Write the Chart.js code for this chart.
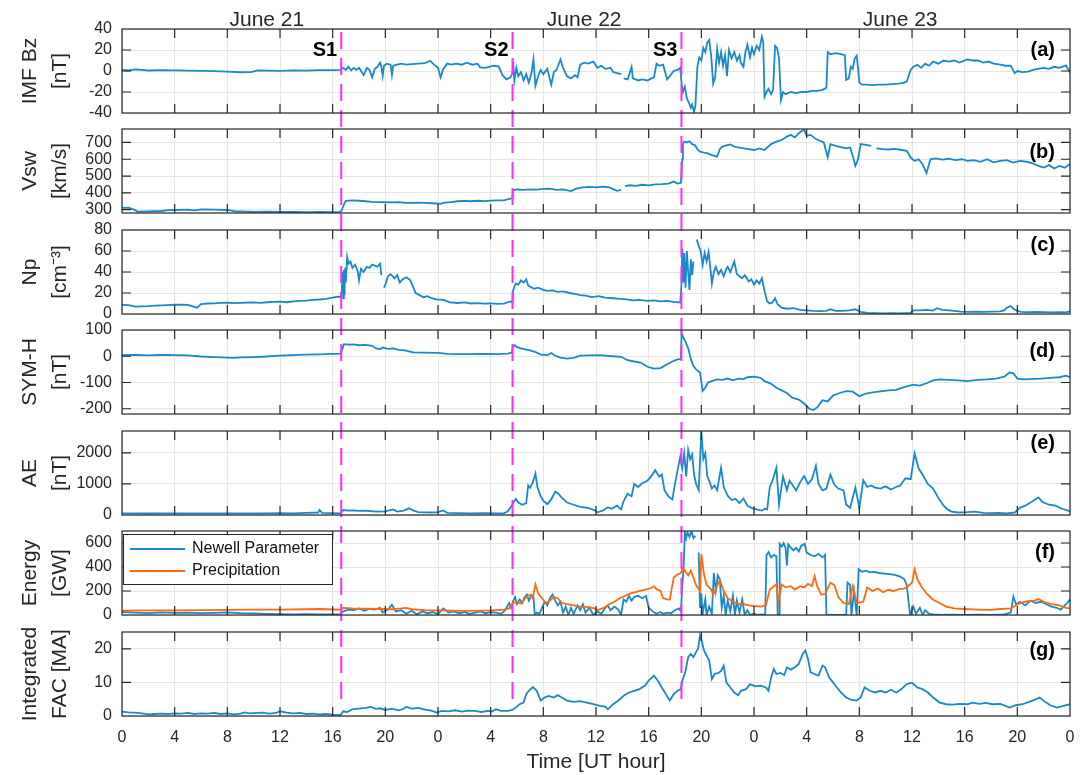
<!DOCTYPE html>
<html>
<head>
<meta charset="utf-8">
<script src="https://cdn.jsdelivr.net/npm/chart.js@4.4.1/dist/chart.umd.min.js"></script>
<style>
  body { margin: 0; background: #fff; }
  #wrap { position: relative; width: 1084px; height: 775px; }
  #wrap canvas { position: absolute; left: 0; }
</style>
</head>
<body>
<div id="wrap"></div>
<script>
// ---- data (hours since June 21 00 UT, value) ----
const shockTimes = [16.65, 29.66, 42.49];
const shockNames = ["S1", "S2", "S3"];
const dayNames = ["June 21", "June 22", "June 23"];
const dayLabelHours = [11, 35.1, 59.1];
const hourTicks = [0, 4, 8, 12, 16, 20, 24, 28, 32, 36, 40, 44, 48, 52, 56, 60, 64, 68, 72];

const bzTicks = [-40, -20, 0, 20, 40];
const vswTicks = [300, 400, 500, 600, 700];
const npTicks = [0, 20, 40, 60, 80];
const symhTicks = [-200, -100, 0, 100];
const aeTicks = [0, 1000, 2000];
const energyTicks = [0, 200, 400, 600];
const facTicks = [0, 10, 20];

const bz = [[0,1],[0.5,0.5],[1,1.5],[1.5,1],[2,0.5],[3,0.8],[4,0.5],[5,0.3],[6,0.2],[7,-0.2],[8,-0.5],[9,-1.2],[9.8,-1],[10.3,0.5],[11,0.3],[12,0.2],[13,0.5],[14,0.4],[15,0.8],[16,0.8],[16.6,1],
  [16.8,3],[17.0,1],[17.2,4],[17.4,0.5],[17.6,3],[17.8,1],[18.0,3],[18.35,-4],[18.6,3],[18.8,1],[19.0,-6],[19.2,2],[19.4,4],[19.6,8],[19.7,4],[19.8,-4.7],[19.9,5],[20.1,7],[20.4,6],[20.5,-3.8],[20.6,5],[20.9,6],[21.2,7],[21.6,6],[22.0,6.5],[22.5,7],[23.0,7.5],[23.4,9.8],[23.7,6],[24.0,3],[24.2,-6],[24.4,2],[24.7,7],[25.0,6],[25.4,7],[25.8,6],[26.2,8],[26.6,6],[27.0,7],[27.2,3.5],[27.6,3],[27.9,4],[28.2,5],[28.6,4.5],[28.9,-4],[29.2,-8],[29.5,-6],[29.66,-2],
  [29.7,9],[29.8,-9],[29.95,3],[30.1,-5],[30.3,-1],[30.5,-9],[30.7,-3],[30.9,-11],[31.1,-2],[31.25,11],[31.4,-14],[31.6,-5],[31.8,1],[32.0,-3],[32.3,2],[32.6,-13],[32.8,-1],[33.0,1],[33.3,11],[33.5,3],[33.8,-5],[34.1,-7],[34.4,-4],[34.6,-6],[34.8,6],[35.1,8],[35.4,7],[35.8,9],[36.1,3],[36.4,5],[36.7,2],[37.1,3],[37.3,-1],[37.6,-2],[37.9,-3],[38.0,null],[38.1,-7],[38.4,-8],[38.7,3.8],[38.8,-7],[39.2,-9],[39.5,-8],[39.9,-9],[40.2,-7],[40.4,-6],[40.6,7],[40.8,5],[41.1,6],[41.4,-8],[41.6,-5],[41.9,0],[42.2,1],[42.4,3],
  [42.5,-12],[42.6,-20],[42.75,-15],[42.9,-26],[43.05,-30],[43.2,-35],[43.3,-32],[43.45,-39],[43.55,-33],[43.7,4],[43.85,13],[44.0,10],[44.15,22],[44.3,18],[44.45,27],[44.6,29.5],[44.75,14],[44.9,-12],[45.05,-6],[45.2,21],[45.35,8],[45.5,18],[45.65,5],[45.8,15],[45.95,-5],[46.1,20],[46.3,12],[46.5,18],[46.7,10],[46.9,15],[47.0,8],[47.2,4],[47.35,18],[47.5,25],[47.7,13],[47.85,22],[48.0,16],[48.2,24],[48.4,20],[48.6,32.7],[48.7,28],[48.8,-24.5],[48.95,-20],[49.1,-17],[49.3,-22],[49.45,-18],[49.6,24],[49.75,22],[49.9,12],[50.05,-27.6],[50.2,-20],[50.4,-22],[50.8,-20],[51.2,-21],[51.6,-20],[52.0,-20],[52.4,-19],[52.8,-19],[53.2,-18],[53.5,-16],[53.6,18],[53.8,16],[54.2,17],[54.6,16],[54.9,15],[55.0,-8.6],[55.2,-7],[55.35,4],[55.5,2],[55.65,12],[55.8,14.6],[55.9,3],[56.0,-11],[56.2,-13],[56.6,-13],[57.0,-13.5],[57.5,-13],[58.0,-13],[58.5,-12.5],[59.0,-12],[59.4,-11],[59.6,-10],[59.9,1],[60.1,4],[60.4,6],[60.7,3],[61.0,7],[61.3,5],[61.6,9],[62.0,7],[62.4,10],[62.8,9],[63.2,10],[63.6,8],[64.2,11],[64.6,10],[65.0,10],[65.4,8],[65.8,9],[66.2,7],[66.7,6],[67.1,5],[67.5,5],[67.8,-2],[68.0,0],[68.4,-1],[68.8,-0.5],[69.2,1],[69.6,2],[70.0,3],[70.4,2],[70.8,4],[71.2,3],[71.7,5.4],[72,-1.6]];

const vsw = [[0,310],[0.5,312],[0.9,300],[1.2,288],[2,290],[3,292],[3.5,297],[4,298],[5,300],[5.5,296],[6,302],[7,300],[8,298],[8.6,290],[9,289],[10,287],[11,288],[12,286],[13,287],[14,285],[15,286],[16,285],[16.6,287],[16.7,300],[16.8,320],[16.9,338],[17.0,352],[17.5,355],[18,353],[18.5,350],[19,346],[19.5,345],[20,344],[20.5,343],[21,345],[21.5,341],[22,340],[22.5,342],[23,340],[23.5,338],[24.2,335],[24.5,342],[25,345],[25.5,350],[26,352],[26.5,350],[27,353],[27.5,351],[28,354],[28.5,355],[29,355],[29.5,365],[29.66,370],[29.7,415],[30,420],[30.5,418],[31,421],[31.5,419],[32,423],[32.5,425],[33,418],[33.5,420],[34.1,410],[34.5,425],[35,432],[35.5,435],[36,432],[36.5,437],[37,433],[37.3,422],[37.6,412],[37.9,418],[38.0,null],[38.2,440],[38.6,445],[39,442],[39.5,448],[40,445],[40.5,450],[41,452],[41.5,455],[41.9,467],[42.2,455],[42.45,460],
  [42.5,520],[42.55,600],[42.6,690],[42.7,705],[42.9,700],[43.1,707],[43.3,690],[43.5,685],[43.7,660],[43.9,645],[44.2,640],[44.5,635],[44.8,625],[45.0,620],[45.2,615],[45.4,660],[45.6,675],[45.9,682],[46.2,688],[46.5,675],[46.8,670],[47.2,665],[47.6,660],[48.0,655],[48.4,665],[48.8,655],[49.0,670],[49.3,690],[49.7,705],[50.1,715],[50.5,735],[50.8,745],[51.1,730],[51.4,755],[51.8,778],[52.0,740],[52.3,745],[52.7,720],[53.0,710],[53.3,700],[53.6,612],[53.8,690],[54.2,680],[54.6,672],[55.0,665],[55.3,670],[55.5,620],[55.7,560],[55.9,600],[56.1,690],[56.5,685],[56.9,680],[57.1,null],[57.3,665],[57.8,660],[58.2,658],[58.7,662],[59.2,655],[59.6,650],[59.9,610],[60.2,590],[60.5,600],[60.8,570],[61.1,518],[61.4,600],[61.8,605],[62.3,598],[62.8,603],[63.3,595],[63.8,600],[64.2,590],[64.7,595],[65.2,585],[65.7,600],[66.2,582],[66.7,590],[67.2,595],[67.7,580],[68.2,590],[68.7,585],[69.2,575],[69.6,560],[70.0,550],[70.4,565],[70.8,545],[71.2,560],[71.6,550],[72,572]];

const np = [[0,8.7],[0.5,8.5],[1,7],[1.5,7.2],[2,7.5],[2.5,8],[3,8.2],[3.5,8.5],[4,8.8],[4.5,9],[5,8.7],[5.7,6],[6,9.5],[6.5,10],[7,10.2],[7.5,10.5],[8,10.8],[8.5,10.3],[9,10.5],[9.5,10.8],[10,11],[10.5,10.6],[11,11.2],[11.5,11.5],[12,11.8],[12.5,11.2],[13,12],[13.5,12.5],[14,12.8],[14.5,13.5],[15,13.8],[15.5,14.5],[16,15.5],[16.4,16.5],[16.6,16],
  [16.7,22],[16.75,40],[16.8,15],[16.85,42],[16.9,18],[16.95,44],[17.0,30],[17.1,54],[17.2,48],[17.35,50],[17.5,44],[17.7,47],[17.9,41],[18.0,32],[18.15,43],[18.35,40],[18.6,45],[18.8,44],[19.0,47],[19.2,46],[19.4,45],[19.6,48],[19.7,37],[19.75,null],[19.9,25],[20.0,28],[20.2,36],[20.4,38],[20.7,34],[20.9,37],[21.1,30],[21.3,33],[21.6,35],[21.9,32],[22.1,26],[22.3,20],[22.6,18],[22.9,16],[23.2,17],[23.5,15],[23.9,14],[24.4,13.5],[24.9,11],[25.5,10.5],[26,11],[26.5,10],[27,10.3],[27.5,9.8],[28,10.2],[28.5,9.6],[29,9.8],[29.5,12],[29.65,11],
  [29.7,22],[29.8,26],[29.9,29],[30.1,28],[30.3,32],[30.5,30],[30.7,33],[30.85,27],[31.0,26],[31.3,24],[31.6,25],[32.0,23],[32.3,22],[32.7,22.5],[33.1,21],[33.5,21.5],[34.0,20],[34.5,19],[34.8,18],[35.2,17.5],[35.7,16],[36.2,17],[36.7,15.5],[37.3,15],[37.8,14.5],[38.3,14],[38.8,13],[39.3,13.5],[39.9,12.5],[40.4,13],[40.9,12],[41.4,12.5],[41.9,11.5],[42.4,11],
  [42.5,30],[42.55,62],[42.65,30],[42.7,58],[42.8,25],[42.9,60],[43.0,40],[43.1,23],[43.2,52],[43.3,37],[43.4,50],[43.5,null],[43.65,71],[43.8,65],[43.95,60],[44.1,47],[44.25,58],[44.4,50],[44.55,59],[44.7,42],[44.8,29],[44.95,40],[45.1,45],[45.3,38],[45.5,42],[45.7,36],[45.9,43],[46.0,45],[46.2,40],[46.5,50],[46.7,38],[46.9,36],[47.1,34],[47.3,37],[47.6,31],[47.8,33],[48.0,28],[48.2,32],[48.4,29],[48.6,34],[48.8,22],[49.0,12],[49.2,10],[49.4,11],[49.6,15],[49.8,9],[50.1,6],[50.5,5],[51.0,5.5],[51.5,4],[52.0,3.5],[52.5,3],[53.0,2.8],[53.5,3],[53.8,4.5],[54.2,3],[54.7,3],[55.2,3.5],[55.7,4.5],[56.1,2],[56.6,1],[57.2,0.8],[57.8,0.5],[58.4,0.7],[59.0,0.5],[59.5,0.8],[59.9,1],[60.1,3.5],[60.6,3.5],[61.1,4],[61.6,3.2],[61.9,5.5],[62.3,4],[62.8,3.5],[63.2,3],[63.7,2.2],[64.3,2],[64.9,2.2],[65.5,2],[66.1,2.3],[66.7,2.5],[67.0,3.5],[67.2,6],[67.5,7.5],[67.7,5],[68.0,3],[68.3,2],[68.8,1.8],[69.4,2],[70.0,1.8],[70.6,1.6],[71.2,1.8],[71.7,1.5],[72,2.5]];

const symh = [[0,4],[1,5],[2,3],[3,5],[4,4],[5,3],[6,-1],[7,-3],[8,-5],[8.5,-6],[9,-4],[10,-3],[11,-1],[12,2],[13,4],[14,6],[15,7],[16,9],[16.6,10],[16.75,30],[16.85,46],[17.2,44],[17.6,45],[18,42],[18.5,43],[19,40],[19.3,30],[19.6,27],[19.8,33],[20.2,28],[20.6,30],[21.0,24],[21.5,22],[22.1,15],[23,14],[24,13],[24.7,9],[25.5,8],[26.5,8],[27.5,9],[28.5,8],[29.3,10],[29.6,14],[29.7,38],[29.8,42],[30.0,35],[30.3,30],[30.7,25],[31.0,22],[31.5,14],[31.8,6],[32.3,4],[32.6,12],[32.9,2],[33.3,-5],[33.8,-9],[34.3,-6],[34.8,2],[35.5,3],[36.3,4],[37.0,1],[37.9,-2],[38.4,-15],[38.9,-20],[39.4,-24],[39.9,-40],[40.4,-47],[40.9,-45],[41.3,-33],[41.8,-20],[42.2,-12],[42.45,-10],
  [42.5,88],[42.6,75],[42.8,55],[43.0,30],[43.2,-10],[43.4,-37],[43.6,-50],[43.9,-62],[44.1,-132],[44.3,-120],[44.5,-100],[44.8,-95],[45.2,-88],[45.6,-90],[46.0,-85],[46.4,-92],[46.8,-85],[47.2,-87],[47.5,-80],[48.0,-78],[48.5,-82],[48.8,-95],[49.3,-105],[49.7,-120],[50.1,-130],[50.5,-140],[50.9,-158],[51.4,-165],[51.8,-180],[52.2,-200],[52.5,-205],[52.8,-195],[53.2,-168],[53.6,-172],[54.0,-150],[54.5,-140],[55.0,-133],[55.5,-135],[56.0,-152],[56.5,-142],[57.0,-138],[57.6,-134],[58.2,-130],[58.8,-128],[59.4,-118],[60.1,-108],[60.6,-112],[61.1,-103],[61.6,-92],[62.1,-88],[62.8,-90],[63.5,-92],[64.2,-95],[65.0,-90],[65.7,-88],[66.4,-85],[67.0,-78],[67.4,-62],[67.7,-65],[68.0,-85],[68.5,-88],[69.2,-86],[69.8,-85],[70.5,-82],[71.2,-80],[71.7,-74],[72,-80]];

const ae = [[0,50],[1,55],[2,48],[3,52],[4,50],[5,55],[6,50],[7,52],[8,55],[9,50],[10,55],[11,52],[12,60],[13,55],[14,70],[14.9,80],[15.0,160],[15.2,70],[16,60],[16.6,55],[16.8,160],[17.2,140],[17.6,150],[18,130],[18.5,140],[19,120],[19.5,110],[20,115],[20.6,180],[20.9,110],[21.4,140],[21.8,215],[22.1,150],[22.5,90],[23,85],[23.5,80],[24.0,90],[24.4,145],[24.7,70],[25.5,60],[26.5,55],[27.5,60],[28.5,50],[29.0,55],[29.3,120],[29.6,300],[29.9,520],[30.1,400],[30.4,330],[30.7,380],[30.85,950],[31.0,880],[31.2,1050],[31.4,1330],[31.55,900],[31.8,600],[32.0,460],[32.3,350],[32.6,500],[32.9,750],[33.1,700],[33.4,560],[33.8,400],[34.3,330],[34.8,260],[35.4,230],[35.9,150],[36.1,85],[36.5,140],[36.9,250],[37.2,200],[37.6,300],[37.9,180],[38.1,450],[38.4,680],[38.7,600],[38.9,1000],[39.2,900],[39.5,1020],[39.9,1100],[40.2,1250],[40.5,1440],[40.8,1230],[41.0,1300],[41.2,800],[41.5,600],[41.8,500],[42.0,1000],[42.2,1450],[42.4,1870],[42.55,1500],[42.7,1980],[42.85,1240],[43.0,2090],[43.15,1800],[43.3,1950],[43.45,1300],[43.6,1000],[43.8,800],[44.0,2680],[44.15,1800],[44.3,1980],[44.45,1250],[44.6,1100],[44.8,850],[45.0,950],[45.2,800],[45.5,1520],[45.7,900],[46.0,620],[46.3,480],[46.6,520],[46.9,380],[47.2,530],[47.5,300],[47.8,230],[48.2,180],[48.6,140],[48.8,200],[49.0,180],[49.2,900],[49.4,1100],[49.7,1520],[49.9,340],[50.2,1240],[50.5,800],[50.7,1100],[50.9,980],[51.2,790],[51.5,1050],[51.8,1250],[52.1,1000],[52.4,1150],[52.7,1580],[52.9,1000],[53.2,790],[53.5,850],[53.8,1300],[54.1,980],[54.4,850],[54.8,790],[55.0,340],[55.3,230],[55.7,880],[56.0,230],[56.3,1120],[56.6,900],[56.9,950],[57.2,880],[57.6,850],[58.0,920],[58.4,820],[58.8,900],[59.1,950],[59.5,1180],[59.9,1150],[60.2,1980],[60.5,1500],[60.8,1300],[61.2,1000],[61.6,850],[62.0,550],[62.4,300],[62.7,180],[63.0,110],[63.5,80],[64.2,90],[64.8,110],[65.4,70],[66.0,60],[66.6,70],[67.2,55],[67.8,80],[68.2,230],[68.6,300],[69.0,400],[69.3,480],[69.6,565],[69.9,420],[70.4,330],[70.9,300],[71.4,200],[71.8,150],[72,120]];

const newell = [[0,25],[1,20],[2,15],[3,22],[4,18],[5,20],[6,15],[7,18],[8,22],[9,16],[10,14],[11,10],[12,8],[13,6],[14,8],[15,5],[16,6],[16.6,8],[16.8,30],[17.2,45],[17.6,40],[18.0,55],[18.4,35],[18.8,50],[19.2,45],[19.6,60],[19.8,20],[20.2,45],[20.5,85],[20.8,30],[21.2,40],[21.6,10],[22.0,35],[22.4,5],[22.8,30],[23.2,15],[23.6,25],[24.0,8],[24.4,55],[24.8,20],[25.2,30],[25.6,15],[26.0,25],[26.4,10],[26.8,20],[27.2,30],[27.6,15],[28.0,25],[28.4,20],[28.8,10],[29.1,40],[29.4,100],[29.55,60],[29.7,115],[29.85,150],[30.0,90],[30.2,130],[30.4,100],[30.55,145],[30.75,170],[30.9,120],[31.1,165],[31.25,155],[31.35,0],[31.5,20],[31.7,10],[31.9,60],[32.1,110],[32.3,80],[32.5,140],[32.7,170],[32.9,120],[33.1,80],[33.3,110],[33.5,20],[33.7,70],[33.9,0],[34.1,60],[34.3,10],[34.6,80],[34.8,40],[35.0,90],[35.2,20],[35.5,60],[35.8,0],[36.1,30],[36.4,10],[36.7,60],[36.9,80],[37.1,40],[37.4,70],[37.7,45],[37.9,0],[38.1,130],[38.3,110],[38.5,160],[38.7,120],[38.9,150],[39.2,160],[39.5,140],[39.8,160],[40.0,60],[40.3,30],[40.6,10],[40.9,25],[41.1,10],[41.4,20],[41.7,15],[42.0,40],[42.3,55],[42.45,30],
  [42.55,240],[42.65,380],[42.75,690],[42.85,640],[42.95,690],[43.1,650],[43.25,700],[43.4,640],[43.55,660],[43.65,null],[43.8,520],[43.9,60],[44.0,180],[44.1,10],[44.3,130],[44.4,0],[44.6,70],[44.8,10],[44.95,350],[45.1,200],[45.25,330],[45.4,300],[45.55,60],[45.7,160],[45.85,0],[46.0,120],[46.2,30],[46.4,160],[46.55,0],[46.7,120],[46.9,20],[47.1,130],[47.3,0],[47.5,40],[47.7,0],[48.0,10],[48.3,0],[48.6,5],[48.85,0],[48.95,500],[49.1,525],[49.3,480],[49.5,500],[49.7,490],[49.8,0],[49.9,0],[49.95,593],[50.1,570],[50.25,600],[50.4,560],[50.5,410],[50.6,590],[50.8,560],[51.0,540],[51.2,560],[51.4,530],[51.6,580],[51.85,593],[52.0,520],[52.3,500],[52.6,490],[52.9,510],[53.2,480],[53.4,500],[53.5,0],[54.0,0],[54.5,0],[55.0,0],[55.1,270],[55.3,250],[55.4,0],[55.6,200],[55.8,0],[55.95,381],[56.2,360],[56.5,370],[56.8,355],[57.1,360],[57.5,350],[57.9,345],[58.3,340],[58.7,335],[59.1,320],[59.4,300],[59.6,250],[59.85,0],[60.1,70],[60.3,10],[60.6,60],[60.8,0],[61.0,40],[61.3,10],[61.6,5],[62.2,0],[63,2],[64,0],[65,3],[66,0],[67,5],[67.5,20],[67.7,155],[67.9,90],[68.2,110],[68.6,80],[69.0,120],[69.4,100],[69.8,110],[70.2,90],[70.6,70],[71.0,60],[71.3,45],[71.6,80],[71.8,100],[72,130]];

const precip = [[0,37],[2,38],[4,38],[6,40],[8,42],[10,44],[12,45],[14,48],[15,50],[16,46],[16.6,45],[16.8,60],[17.5,55],[18.5,52],[19.5,50],[20.5,48],[21.2,55],[21.6,60],[22.0,48],[23,40],[24,38],[25,36],[26,35],[27,36],[28,38],[29.0,45],[29.4,55],[29.7,100],[30.0,110],[30.3,95],[30.7,150],[31.0,170],[31.2,140],[31.4,255],[31.6,180],[31.9,140],[32.2,100],[32.5,120],[32.8,150],[33.1,140],[33.4,100],[33.8,90],[34.3,80],[34.8,70],[35.4,65],[35.9,55],[36.1,40],[36.6,60],[37.0,90],[37.4,110],[37.8,140],[38.2,160],[38.6,180],[39.0,190],[39.5,205],[39.9,215],[40.2,225],[40.4,240],[40.6,215],[40.9,200],[41.1,140],[41.4,130],[41.6,128],[41.9,310],[42.2,340],[42.45,350],[42.6,395],[42.8,360],[43.0,330],[43.2,370],[43.4,310],[43.6,250],[43.9,200],[44.0,508],[44.2,340],[44.4,250],[44.7,220],[44.9,170],[45.1,220],[45.4,290],[45.7,200],[46.0,140],[46.4,110],[46.8,95],[47.2,90],[47.6,80],[48.0,75],[48.5,70],[48.9,80],[49.2,212],[49.5,240],[49.7,254],[49.85,110],[50.1,254],[50.4,230],[50.8,240],[51.1,212],[51.5,240],[51.8,230],[52.1,260],[52.4,240],[52.6,325],[52.8,240],[53.1,170],[53.4,175],[53.8,268],[54.1,250],[54.4,150],[54.8,100],[55.2,90],[55.5,240],[55.8,100],[56.3,110],[56.6,230],[57.0,200],[57.4,220],[57.8,190],[58.2,210],[58.6,200],[59.0,215],[59.4,220],[59.7,240],[60.0,270],[60.2,381],[60.4,300],[60.7,240],[61.1,180],[61.6,127],[62.1,100],[62.6,70],[63.2,55],[64,50],[65,45],[66,42],[66.7,50],[67.5,55],[68.2,100],[68.8,115],[69.3,120],[69.6,133],[70.0,110],[70.6,90],[71.2,80],[71.7,60],[72,55]];

const fac = [[0,1.3],[0.5,1.1],[1,1.0],[1.5,0.8],[2,0.5],[2.5,0.6],[3,0.7],[3.5,0.6],[4,0.8],[4.5,0.7],[5,0.9],[5.5,0.6],[6,0.8],[6.5,0.7],[7,0.9],[7.5,0.6],[8,0.8],[8.5,0.5],[9,0.7],[9.3,1.1],[9.7,0.8],[10.2,0.9],[10.7,1.0],[11.2,0.7],[11.7,0.9],[12.0,1.4],[12.5,1.0],[13,0.8],[13.5,0.9],[14,0.6],[14.5,0.7],[15,0.5],[15.5,0.6],[16,0.4],[16.6,0.3],[16.8,1.4],[17.1,1.2],[17.5,2.0],[18,2.2],[18.5,2.4],[18.9,2.7],[19.3,2.1],[19.6,2.3],[20.0,1.8],[20.5,2.2],[21.0,1.7],[21.3,2.0],[21.6,2.7],[22.0,2.2],[22.5,2.4],[23.0,1.9],[23.5,1.6],[23.9,1.0],[24.3,1.5],[24.8,1.4],[25.3,1.7],[25.8,1.3],[26.3,1.6],[26.8,1.5],[27.3,1.2],[27.8,1.5],[28.1,1.3],[28.4,2.0],[28.8,1.5],[29.3,1.5],[29.65,1.8],[29.9,2.5],[30.2,3.5],[30.5,4.0],[30.7,6.5],[30.9,7.5],[31.2,8.6],[31.5,7.5],[31.8,4.6],[32.1,5.5],[32.4,6.0],[32.8,5.5],[33.1,6.2],[33.4,5.5],[33.8,4.6],[34.3,4.2],[34.8,4.4],[35.3,4.0],[35.8,3.5],[36.3,3.0],[36.7,2.8],[36.9,2.0],[37.3,3.5],[37.7,4.6],[38.1,6.0],[38.5,7.0],[38.9,7.5],[39.3,8.0],[39.7,9.0],[40.0,10.5],[40.4,12.0],[40.7,10.5],[41.0,8.5],[41.3,6.5],[41.6,4.6],[41.9,6.5],[42.2,7.5],[42.45,8.0],
  [42.55,10.4],[42.8,13.4],[43.0,17.5],[43.2,18.5],[43.4,17.5],[43.6,19.0],[43.75,20],[43.9,23.9],[44.05,22],[44.2,19.5],[44.4,18],[44.6,16.5],[44.8,11],[45.0,12.5],[45.3,12.8],[45.5,13.4],[45.7,15],[45.9,10],[46.2,8.5],[46.5,7.0],[46.8,6.2],[47.0,7.5],[47.4,8.0],[47.7,9.5],[48.1,8.8],[48.5,9.0],[48.9,8.5],[49.1,7.5],[49.3,11.5],[49.5,14.0],[49.7,12.5],[50.0,12.8],[50.3,12.2],[50.5,14.5],[50.8,13.8],[51.1,14.5],[51.4,15.5],[51.7,18.5],[51.9,19.5],[52.1,17],[52.3,13],[52.6,12.5],[52.9,12.0],[53.2,15],[53.4,14.5],[53.7,11.5],[54.0,10],[54.3,8.5],[54.6,7.0],[55.0,5.5],[55.4,4.8],[55.8,4.6],[56.1,5.5],[56.4,8.5],[56.8,7.5],[57.2,7.0],[57.6,7.5],[58.0,7.0],[58.4,7.8],[58.8,7.0],[59.2,8.0],[59.6,9.5],[60.0,9.9],[60.4,8.5],[60.8,8.0],[61.2,7.0],[61.6,5.5],[62.1,4.0],[62.6,3.5],[63.1,3.4],[63.6,3.6],[64.2,3.5],[64.6,4.0],[65.1,3.6],[65.6,3.9],[66.1,3.5],[66.7,3.6],[67.1,3.0],[67.4,2.5],[67.9,3.2],[68.4,3.5],[68.9,4.2],[69.3,4.8],[69.7,5.5],[70.0,4.5],[70.5,3.2],[71.0,2.5],[71.5,3.0],[72,3.5]];

// ---- style / layout ----
const FONT = '"Liberation Sans", Arial, Helvetica, sans-serif';
const BLUE = "#1a88c9", ORANGE = "#ff6a10", MAGENTA = "#ff2bff", INK = "#262626", GRID = "#e6e6e6";
const PLOT_LEFT = 122, PLOT_RIGHT = 1070, PLOT_H = 84, FIRST_TOP = 29, STEP = 100.45, TICK_LEN = 9;
Chart.defaults.font.family = FONT;

const panels = [
  { tag: "(a)", tagAt: 20,   title: ["IMF Bz", "[nT]"],   min: -40,  max: 40,   ticks: bzTicks,     series: [{ label: "IMF Bz", data: bz, color: BLUE }] },
  { tag: "(b)", tagAt: 640,  title: ["Vsw", "[km/s]"],    min: 280,  max: 780,  ticks: vswTicks,    series: [{ label: "Vsw", data: vsw, color: BLUE }] },
  { tag: "(c)", tagAt: 65,   title: ["Np", "[cm\u207B\u00B3]"], min: 0, max: 80, ticks: npTicks,     series: [{ label: "Np", data: np, color: BLUE }] },
  { tag: "(d)", tagAt: 20,   title: ["SYM-H", "[nT]"],    min: -220, max: 100,  ticks: symhTicks,   series: [{ label: "SYM-H", data: symh, color: BLUE }] },
  { tag: "(e)", tagAt: 2300, title: ["AE", "[nT]"],       min: 0,    max: 2700, ticks: aeTicks,     series: [{ label: "AE", data: ae, color: BLUE }] },
  { tag: "(f)", tagAt: 525,  title: ["Energy", "[GW]"],   min: 0,    max: 700,  ticks: energyTicks, legend: true,
    series: [{ label: "Newell Parameter", data: newell, color: BLUE, order: 2 },
             { label: "Precipitation", data: precip, color: ORANGE, order: 1 }] },
  { tag: "(g)", tagAt: 19.5, title: ["Integrated", "FAC [MA]"], min: 0, max: 25, ticks: facTicks,   series: [{ label: "FAC", data: fac, color: BLUE }] }
];

const wrap = document.getElementById("wrap");
const plotTop = i => Math.round(FIRST_TOP + i * STEP);

// box, inward ticks, shock lines and labels, drawn on top of the lines
function decor(p, first, last, canvasTop) {
  return {
    id: "decor",
    afterDatasetsDraw(chart) {
      const ctx = chart.ctx;
      const { left, right, top, bottom } = chart.chartArea;
      const xs = chart.scales.x, ys = chart.scales.y;
      ctx.save();

      // shock lines, dash phase kept continuous across panels
      const y0 = first ? top + 3 : 0;
      const y1 = last ? bottom - 8 : chart.height;
      ctx.strokeStyle = MAGENTA;
      ctx.lineWidth = 2;
      ctx.setLineDash([17, 9]);
      ctx.lineDashOffset = canvasTop + y0 - (FIRST_TOP + 3);
      shockTimes.forEach(t => {
        const x = xs.getPixelForValue(t);
        ctx.beginPath(); ctx.moveTo(x, y0); ctx.lineTo(x, y1); ctx.stroke();
      });
      ctx.setLineDash([]);

      // frame + inward tick marks
      ctx.strokeStyle = INK;
      ctx.lineWidth = 1.2;
      ctx.strokeRect(left, top, right - left, bottom - top);
      ctx.beginPath();
      ys.ticks.forEach(t => {
        const y = ys.getPixelForValue(t.value);
        if (y < top + 1 || y > bottom - 1) return;
        ctx.moveTo(left, y); ctx.lineTo(left + TICK_LEN, y);
        ctx.moveTo(right, y); ctx.lineTo(right - TICK_LEN, y);
      });
      xs.ticks.forEach(t => {
        const x = xs.getPixelForValue(t.value);
        if (x < left + 1 || x > right - 1) return;
        ctx.moveTo(x, bottom); ctx.lineTo(x, bottom - TICK_LEN);
        ctx.moveTo(x, top); ctx.lineTo(x, top + TICK_LEN);
      });
      ctx.stroke();

      // panel tag
      ctx.fillStyle = "#000";
      ctx.font = `bold 20px ${FONT}`;
      ctx.textAlign = "right";
      ctx.textBaseline = "middle";
      ctx.fillText(p.tag, right - 15, ys.getPixelForValue(p.tagAt));

      if (first) {
        shockNames.forEach((s, k) => {
          ctx.fillText(s, xs.getPixelForValue(shockTimes[k]) - 4, top + 21);
        });
        ctx.fillStyle = INK;
        ctx.font = `21px ${FONT}`;
        ctx.textAlign = "center";
        ctx.textBaseline = "alphabetic";
        dayNames.forEach((d, k) => ctx.fillText(d, xs.getPixelForValue(dayLabelHours[k]), top - 3));
      }

      if (p.legend) {
        const bx = left + 1, by = top + 3, bw = 209, bh = 50;
        ctx.fillStyle = "#fff";
        ctx.fillRect(bx, by, bw, bh);
        ctx.strokeStyle = INK;
        ctx.lineWidth = 1;
        ctx.strokeRect(bx + 0.5, by + 0.5, bw, bh);
        ctx.font = `16px ${FONT}`;
        ctx.textAlign = "left";
        ctx.textBaseline = "middle";
        chart.data.datasets.forEach((ds, k) => {
          const ly = by + 15 + k * 22;
          ctx.strokeStyle = ds.borderColor;
          ctx.lineWidth = 2;
          ctx.beginPath(); ctx.moveTo(bx + 7, ly); ctx.lineTo(bx + 62, ly); ctx.stroke();
          ctx.fillStyle = "#111";
          ctx.fillText(ds.label, bx + 69, ly);
        });
      }
      ctx.restore();
    }
  };
}

panels.forEach((p, i) => {
  const first = i === 0, last = i === panels.length - 1;
  const top = plotTop(i);
  const canvasTop = first ? 0 : top - 8;
  const canvasBottom = last ? 775 : plotTop(i + 1) - 8;
  const h = canvasBottom - canvasTop;
  const padTop = top - canvasTop;
  const xAxisH = last ? h - padTop - PLOT_H : 0;

  const cv = document.createElement("canvas");
  cv.width = 1084;
  cv.height = h;
  cv.style.top = canvasTop + "px";
  cv.style.width = "1084px";
  cv.style.height = h + "px";
  wrap.appendChild(cv);

  new Chart(cv, {
    type: "line",
    data: {
      datasets: p.series.map(s => ({
        label: s.label,
        data: s.data.map(([x, y]) => ({ x, y })),
        borderColor: s.color,
        backgroundColor: s.color,
        borderWidth: 1.8,
        pointRadius: 0,
        tension: 0,
        spanGaps: false,
        order: s.order || 0
      }))
    },
    options: {
      responsive: false,
      animation: false,
      events: [],
      layout: { padding: { left: 0, right: 1084 - PLOT_RIGHT, top: padTop, bottom: last ? 0 : h - padTop - PLOT_H } },
      plugins: { legend: { display: false }, tooltip: { enabled: false } },
      scales: {
        x: {
          type: "linear",
          min: 0,
          max: 72,
          afterBuildTicks: s => { s.ticks = hourTicks.map(v => ({ value: v })); },
          afterFit: s => {
            s.height = xAxisH;
            s.paddingLeft = 0; s.paddingRight = 0;
          },
          grid: { color: GRID, drawTicks: false },
          border: { display: false },
          ticks: {
            display: last,
            color: INK,
            font: { size: 16 },
            padding: 12,
            maxRotation: 0,
            autoSkip: false,
            callback: v => String(v % 24)
          },
          title: {
            display: last,
            text: "Time [UT hour]",
            color: INK,
            font: { size: 21, lineHeight: 1.2 },
            padding: { top: 0, bottom: 0 }
          }
        },
        y: {
          min: p.min,
          max: p.max,
          afterBuildTicks: s => { s.ticks = p.ticks.map(v => ({ value: v })); },
          afterFit: s => {
            s.width = PLOT_LEFT;
            s.paddingTop = 0; s.paddingBottom = 0;
          },
          grid: { color: GRID, drawTicks: false },
          border: { display: false },
          ticks: { color: INK, font: { size: 16 }, padding: 10, autoSkip: false, callback: v => String(v) },
          title: {
            display: true,
            text: p.title,
            color: INK,
            font: { size: 21, lineHeight: 1.45 },
            padding: { top: 15, bottom: 0 }
          }
        }
      }
    },
    plugins: [decor(p, first, last, canvasTop)]
  });
});
</script>
</body>
</html>
